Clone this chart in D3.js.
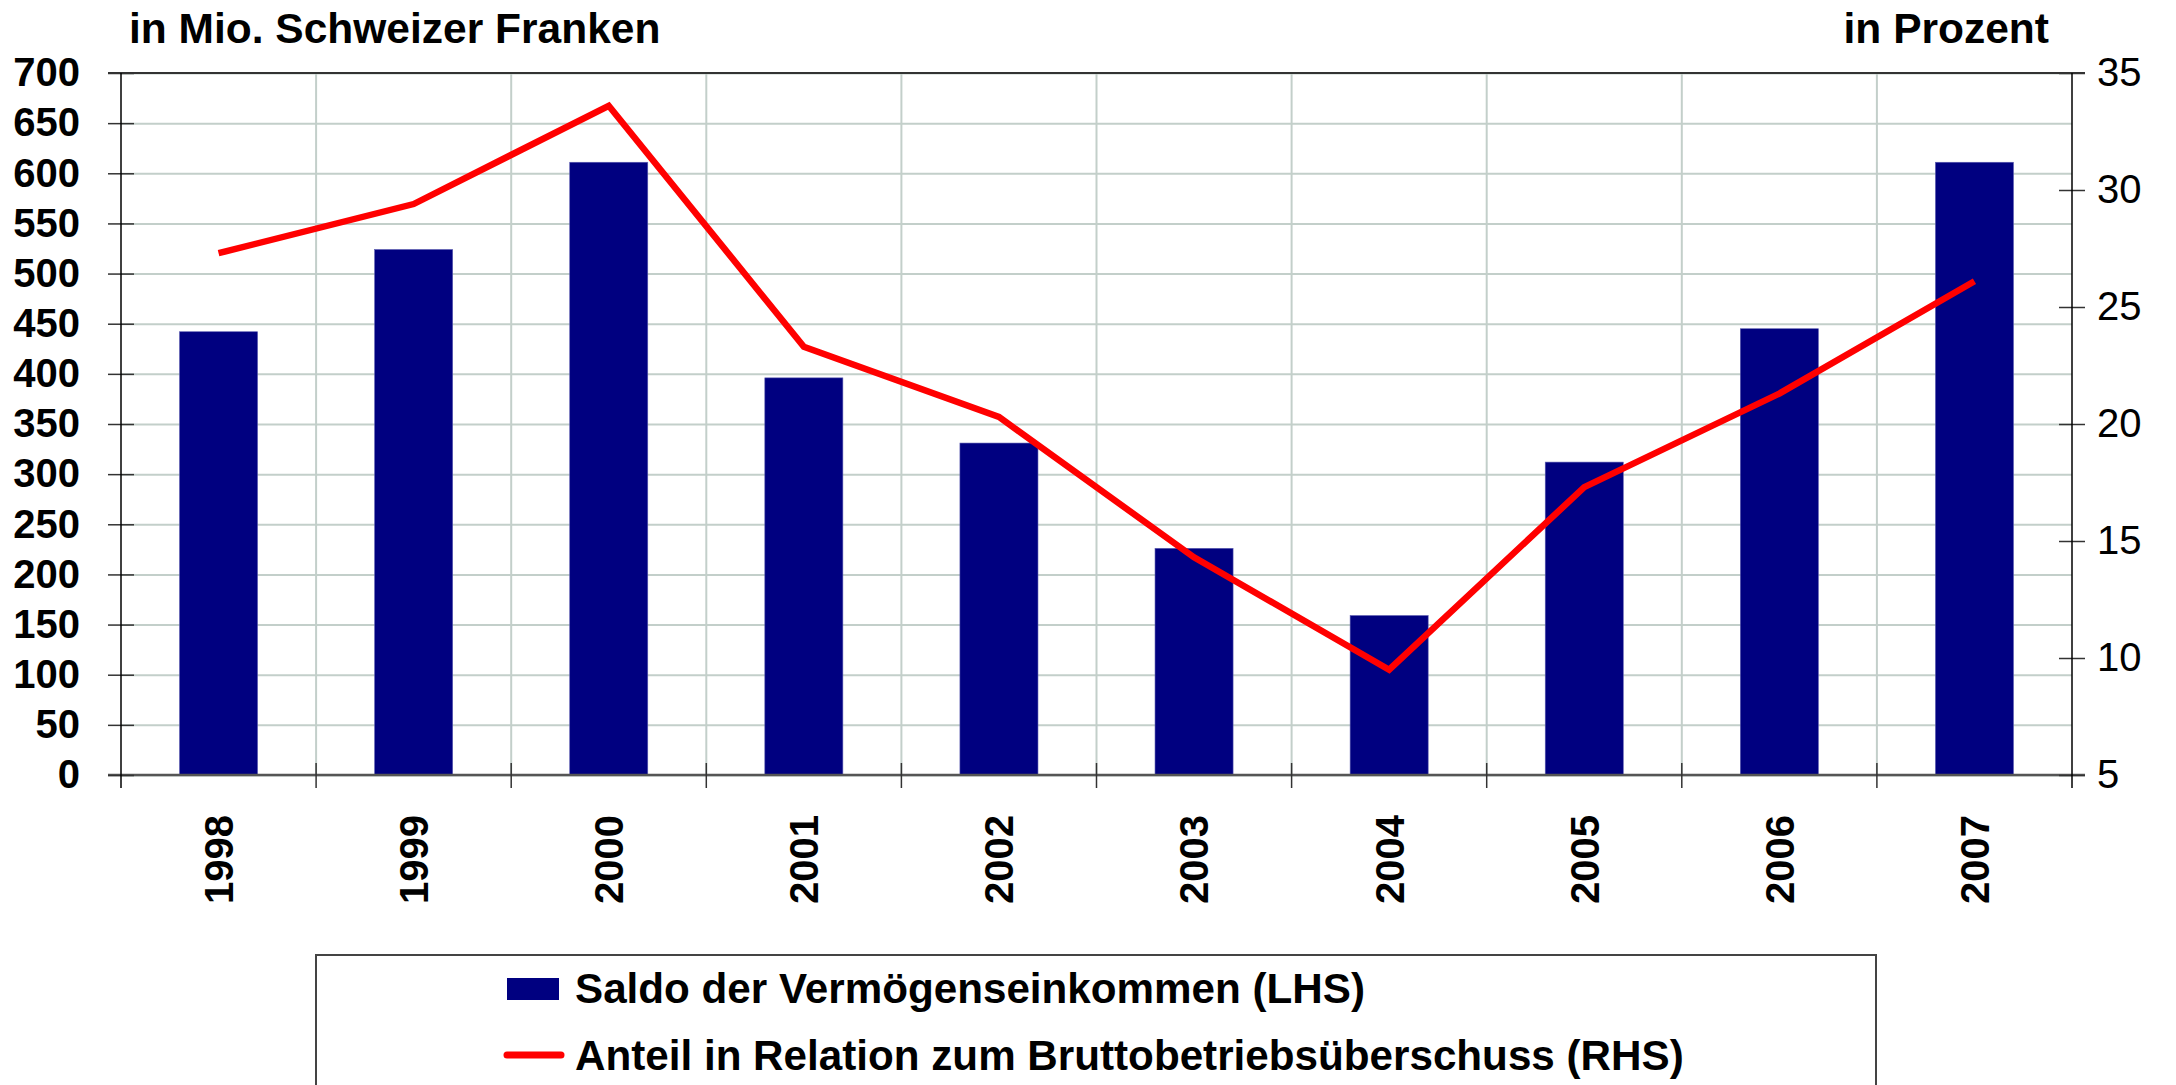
<!DOCTYPE html>
<html>
<head>
<meta charset="utf-8">
<script src="https://cdn.jsdelivr.net/npm/d3@7"></script>
<style>
	body { margin: 0; background: #fff; }
	svg { display: block; font-family: "Liberation Sans", Arial, sans-serif; }
</style>
</head>
<body>
<div id="chart"></div>
<script>
// data
var years = ["1998", "1999", "2000", "2001", "2002", "2003", "2004", "2005", "2006", "2007"];
var saldo = [442, 524, 611, 396, 331, 226, 159, 312, 445, 611]; // Mio. CHF (LHS)
var anteil = [27.3, 29.4, 33.6, 23.3, 20.3, 14.3, 9.5, 17.3, 21.3, 26.1]; // Prozent (RHS)
var leftTicks = [0, 50, 100, 150, 200, 250, 300, 350, 400, 450, 500, 550, 600, 650, 700];
var rightTicks = [5, 10, 15, 20, 25, 30, 35];
var legendLabels = ["Saldo der Vermögenseinkommen (LHS)", "Anteil in Relation zum Bruttobetriebsüberschuss (RHS)"];

var W = 2176, H = 1085;
var margin = { left: 121, top: 73, right: 104, bottom: 310 };
var width = W - margin.left - margin.right;
var height = H - margin.top - margin.bottom;

var svg = d3.select("#chart").append("svg")
	.attr("width", W)
	.attr("height", H);

var g = svg.append("g")
	.attr("transform", "translate(" + margin.left + "," + margin.top + ")");

var x = d3.scaleBand().domain(years).range([0, width]).padding(0); // category slots
var xBar = d3.scaleBand().domain(years).range([0, width]).paddingInner(0.6).paddingOuter(0.3);
var yL = d3.scaleLinear().domain([0, 700]).range([height, 0]);
var yR = d3.scaleLinear().domain([5, 35]).range([height, 0]);

var gridColor = "#c3cfca";
var axisColor = "#333";

// horizontal grid
g.append("g")
	.call(d3.axisLeft(yL).tickValues(leftTicks).tickSize(-width).tickFormat(""))
	.call(function (s) { s.select(".domain").remove(); })
	.selectAll("line")
	.attr("stroke", gridColor)
	.attr("stroke-width", 2);

// vertical grid at category boundaries
g.append("g")
	.selectAll("line")
	.data(years.slice(1))
	.enter()
	.append("line")
	.attr("x1", function (d) { return x(d); })
	.attr("x2", function (d) { return x(d); })
	.attr("y1", 0)
	.attr("y2", height)
	.attr("stroke", gridColor)
	.attr("stroke-width", 2);

// bars
g.append("g")
	.selectAll("rect")
	.data(years)
	.enter()
	.append("rect")
	.attr("x", function (d) { return xBar(d); })
	.attr("width", xBar.bandwidth())
	.attr("y", function (d, i) { return yL(saldo[i]); })
	.attr("height", function (d, i) { return height - yL(saldo[i]); })
	.attr("fill", "#000080")
	.attr("stroke", "#5a5ab0")
	.attr("stroke-width", 0.6);

// top border + bottom axis line (stick out like ticks)
g.append("line")
	.attr("x1", -13).attr("x2", width + 13)
	.attr("y1", 0).attr("y2", 0)
	.attr("stroke", axisColor).attr("stroke-width", 2);
g.append("line")
	.attr("x1", -13).attr("x2", width + 13)
	.attr("y1", height).attr("y2", height)
	.attr("stroke", "#555").attr("stroke-width", 2.5);

// category boundary ticks on x axis
g.append("g")
	.selectAll("line")
	.data(years.slice(1))
	.enter()
	.append("line")
	.attr("x1", function (d) { return x(d); })
	.attr("x2", function (d) { return x(d); })
	.attr("y1", height - 12)
	.attr("y2", height + 13)
	.attr("stroke", axisColor)
	.attr("stroke-width", 1.5);

// left axis
var leftAxis = g.append("g")
	.call(d3.axisLeft(yL).tickValues(leftTicks).tickSize(13).tickPadding(28));
leftAxis.select(".domain").remove();
leftAxis.selectAll(".tick line").attr("x1", 13).attr("stroke", axisColor).attr("stroke-width", 1.5);
leftAxis.selectAll("text")
	.attr("fill", "#000")
	.style("font-size", "40px")
	.style("font-weight", "bold")
	.style("font-family", "'Liberation Sans', Arial, sans-serif");
g.append("line")
	.attr("x1", 0).attr("x2", 0)
	.attr("y1", 0).attr("y2", height + 13)
	.attr("stroke", "#000").attr("stroke-width", 1.5);

// right axis
var rightAxis = g.append("g")
	.attr("transform", "translate(" + width + ",0)")
	.call(d3.axisRight(yR).tickValues(rightTicks).tickSize(13).tickPadding(12));
rightAxis.select(".domain").remove();
rightAxis.selectAll(".tick line").attr("x1", -13).attr("stroke", axisColor).attr("stroke-width", 1.5);
rightAxis.selectAll("text")
	.attr("fill", "#000")
	.style("font-size", "40px")
	.style("font-family", "'Liberation Sans', Arial, sans-serif");
g.append("line")
	.attr("x1", width).attr("x2", width)
	.attr("y1", 0).attr("y2", height + 13)
	.attr("stroke", "#000").attr("stroke-width", 1.5);

// year labels, rotated
g.append("g")
	.selectAll("text")
	.data(years)
	.enter()
	.append("text")
	.attr("transform", function (d) {
		return "translate(" + (x(d) + x.bandwidth() / 2) + "," + (height + 40) + ") rotate(-90)";
	})
	.attr("text-anchor", "end")
	.attr("dy", "0.36em")
	.style("font-size", "40px")
	.style("font-weight", "bold")
	.text(function (d) { return d; });

// red line on right scale
var line = d3.line()
	.x(function (d, i) { return x(years[i]) + x.bandwidth() / 2; })
	.y(function (d) { return yR(d); });

g.append("path")
	.datum(anteil)
	.attr("d", line)
	.attr("fill", "none")
	.attr("stroke", "#ff0000")
	.attr("stroke-width", 6.5)
	.attr("stroke-linejoin", "miter");

// axis titles
svg.append("text")
	.attr("x", 129).attr("y", 43)
	.style("font-size", "42.5px").style("font-weight", "bold")
	.text("in Mio. Schweizer Franken");
svg.append("text")
	.attr("x", 2049).attr("y", 43)
	.attr("text-anchor", "end")
	.style("font-size", "42.5px").style("font-weight", "bold")
	.text("in Prozent");

// legend
var legend = svg.append("g");
legend.append("rect")
	.attr("x", 316).attr("y", 955)
	.attr("width", 1560).attr("height", 200)
	.attr("fill", "#fff")
	.attr("stroke", "#444").attr("stroke-width", 2);
legend.append("rect")
	.attr("x", 507).attr("y", 978)
	.attr("width", 52).attr("height", 22)
	.attr("fill", "#000080");
legend.append("line")
	.attr("x1", 507).attr("x2", 561)
	.attr("y1", 1055).attr("y2", 1055)
	.attr("stroke", "#ff0000").attr("stroke-width", 7)
	.attr("stroke-linecap", "round");
legend.selectAll("text.lg")
	.data(legendLabels)
	.enter()
	.append("text")
	.attr("class", "lg")
	.attr("x", 575)
	.attr("y", function (d, i) { return 1003 + i * 67; })
	.style("font-size", "42.2px").style("font-weight", "bold")
	.text(function (d) { return d; });
</script>
</body>
</html>
